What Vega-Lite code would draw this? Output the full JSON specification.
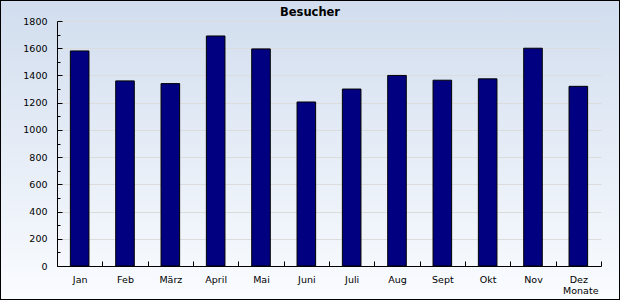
{
  "$schema": "https://vega.github.io/schema/vega-lite/v6.json",
  "width": 620,
  "height": 300,
  "autosize": {"type": "fit", "contains": "padding"},
  "padding": 0,
  "background": "#eef3fa",
  "config": {
    "view": {
      "fill": {"gradient": "linear", "x1": 0, "y1": 0, "x2": 0, "y2": 1,
        "stops": [{"offset": 0, "color": "#d1ddee"}, {"offset": 1, "color": "#fafcff"}]},
      "stroke": "#000000",
      "strokeWidth": 2
    }
  },
  "title": {
    "text": "Besucher",
    "font": "DejaVu Sans",
    "fontSize": 11.5,
    "fontWeight": "bold",
    "color": "#000000",
    "anchor": "middle",
    "frame": "group",
    "baseline": "alphabetic",
    "offset": -27
  },
  "data": {
    "values": [
      {"Monat": "Jan", "Besucher": 1580},
      {"Monat": "Feb", "Besucher": 1360},
      {"Monat": "März", "Besucher": 1340},
      {"Monat": "April", "Besucher": 1690},
      {"Monat": "Mai", "Besucher": 1595},
      {"Monat": "Juni", "Besucher": 1205},
      {"Monat": "Juli", "Besucher": 1300},
      {"Monat": "Aug", "Besucher": 1400},
      {"Monat": "Sept", "Besucher": 1365},
      {"Monat": "Okt", "Besucher": 1375},
      {"Monat": "Nov", "Besucher": 1600},
      {"Monat": "Dez", "Besucher": 1320}
    ]
  },
  "mark": {"type": "bar", "fill": "#000080", "stroke": "#000000", "strokeWidth": 1, "width": {"band": 0.41}},
  "encoding": {
    "x": {
      "field": "Monat",
      "type": "nominal",
      "sort": null,
      "scale": {"range": [57, 601], "paddingInner": 0, "paddingOuter": 0},
      "axis": {
        "orient": "bottom",
        "offset": -34,
        "title": "Monate",
        "titleAnchor": "end",
        "titleFont": "DejaVu Sans",
        "titleFontSize": 9.5,
        "titleFontWeight": "normal",
        "titleColor": "#000000",
        "titlePadding": 2,
        "titleX": 598,
        "labelAngle": 0,
        "labelFont": "DejaVu Sans",
        "labelFontSize": 9.5,
        "labelColor": "#000000",
        "labelPadding": 13,
        "tickBand": "extent",
        "tickSize": -5,
        "tickColor": "#000000",
        "domainColor": "#000000",
        "grid": false
      }
    },
    "y": {
      "field": "Besucher",
      "type": "quantitative",
      "scale": {"domain": [0, 1800], "range": [266, 21], "nice": false},
      "axis": {
        "orient": "left",
        "offset": -57,
        "title": null,
        "values": [0, 100, 200, 300, 400, 500, 600, 700, 800, 900, 1000, 1100, 1200, 1300, 1400, 1500, 1600, 1700, 1800],
        "format": "d",
        "labelExpr": "datum.value % 200 === 0 ? datum.label : ''",
        "labelFont": "DejaVu Sans",
        "labelFontSize": 9.5,
        "labelColor": "#000000",
        "labelPadding": 15,
        "tickSize": {"condition": {"test": "datum.value % 200 === 0", "value": -5}, "value": -3},
        "tickColor": "#000000",
        "domainColor": "#000000",
        "grid": true,
        "gridColor": "#dcdcdc",
        "gridOpacity": {"condition": {"test": "datum.value % 200 === 0 && datum.value > 0", "value": 1}, "value": 0}
      }
    }
  }
}
